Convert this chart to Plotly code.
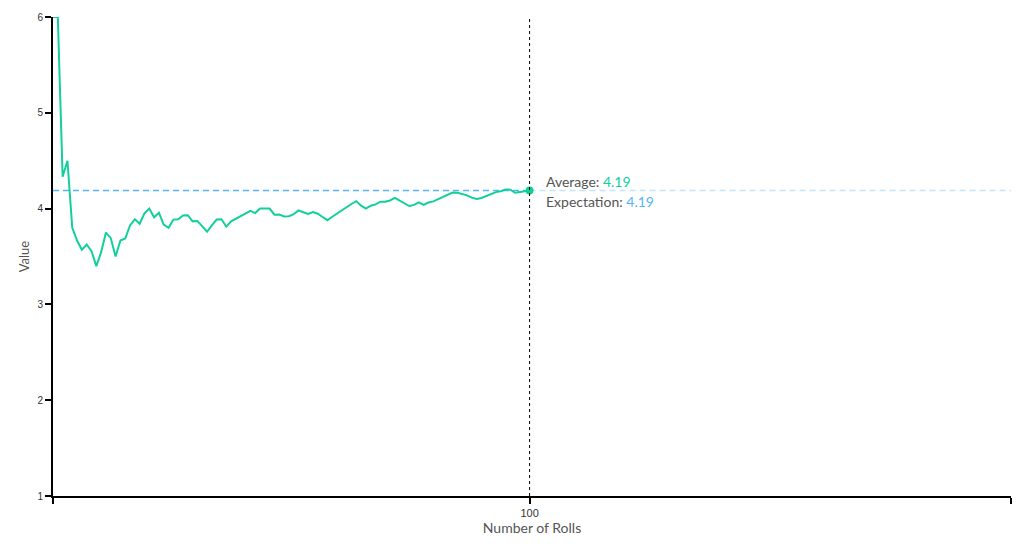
import plotly.graph_objects as go

rolls = list(range(1, 101))
running_average = [
    6.0, 6.0, 4.333, 4.5, 3.8, 3.667, 3.571, 3.625, 3.556, 3.4,
    3.545, 3.75, 3.692, 3.5, 3.667, 3.688, 3.824, 3.889, 3.842, 3.95,
    4.0, 3.909, 3.957, 3.833, 3.8, 3.885, 3.889, 3.929, 3.931, 3.867,
    3.871, 3.813, 3.758, 3.824, 3.886, 3.889, 3.811, 3.868, 3.897, 3.925,
    3.951, 3.976, 3.953, 4.0, 4.0, 4.0, 3.936, 3.938, 3.918, 3.92,
    3.941, 3.981, 3.962, 3.944, 3.964, 3.946, 3.912, 3.879, 3.915, 3.95,
    3.984, 4.016, 4.048, 4.078, 4.031, 4.0, 4.03, 4.044, 4.072, 4.071,
    4.085, 4.111, 4.082, 4.054, 4.027, 4.039, 4.065, 4.038, 4.063, 4.075,
    4.099, 4.122, 4.145, 4.167, 4.165, 4.151, 4.138, 4.114, 4.101, 4.111,
    4.132, 4.152, 4.172, 4.181, 4.2, 4.198, 4.165, 4.173, 4.182, 4.19,
]
expectation = 4.19
x_min, x_max = 1, 200
y_ticks = [1, 2, 3, 4, 5, 6]
x_tickvals = [1, 100, 200]
x_ticktext = ["", "100", ""]

TEAL = "#12cf9c"
BLUE = "#55b5f7"
GRAY = "#555555"

current = rolls[-1]
current_avg = running_average[-1]

fig = go.Figure()
fig.add_trace(go.Scatter(x=[x_min, current], y=[expectation, expectation], mode="lines",
                         line=dict(color=BLUE, width=1.5, dash="6px,4px"), hoverinfo="skip"))
fig.add_trace(go.Scatter(x=[current, x_max], y=[expectation, expectation], mode="lines",
                         line=dict(color="rgba(85,181,247,0.35)", width=1.5, dash="6px,4px"), hoverinfo="skip"))
fig.add_trace(go.Scatter(x=rolls, y=running_average, mode="lines",
                         line=dict(color=TEAL, width=2), hoverinfo="skip"))
fig.add_trace(go.Scatter(x=[current], y=[current_avg], mode="markers",
                         marker=dict(color=TEAL, size=8), hoverinfo="skip"))

fig.add_shape(type="line", x0=current, x1=current, y0=0, y1=1, xref="x", yref="paper",
              line=dict(color="black", width=1, dash="dot"))

fig.add_annotation(x=current, y=current_avg, xref="x", yref="y", xanchor="left", yanchor="middle",
                   xshift=14, yshift=9, showarrow=False, align="left",
                   text=f"Average: <span style='color:{TEAL}'>{current_avg:.2f}</span>",
                   font=dict(family="Lato, 'Open Sans', sans-serif", size=14, color=GRAY))
fig.add_annotation(x=current, y=expectation, xref="x", yref="y", xanchor="left", yanchor="middle",
                   xshift=14, yshift=-11, showarrow=False, align="left",
                   text=f"Expectation: <span style='color:{BLUE}'>{expectation:.2f}</span>",
                   font=dict(family="Lato, 'Open Sans', sans-serif", size=14, color=GRAY))

fig.update_layout(
    width=1013, height=531,
    margin=dict(l=45, r=10, t=9, b=43),
    plot_bgcolor="white", paper_bgcolor="white",
    showlegend=False,
    xaxis=dict(range=[x_min, x_max], tickvals=x_tickvals, ticktext=x_ticktext, automargin=False,
               showgrid=False, zeroline=False, showline=True, linecolor="black", linewidth=2,
               ticks="outside", ticklen=6, tickwidth=2, tickcolor="black",
               tickfont=dict(family="Liberation Sans, Arial, sans-serif", size=11, color="#333"),
               title=dict(text="Number of Rolls", standoff=3,
                          font=dict(family="Lato, 'Open Sans', sans-serif", size=14, color=GRAY))),
    yaxis=dict(range=[1, 6], tickvals=y_ticks, automargin=False,
               showgrid=False, zeroline=False, showline=True, linecolor="black", linewidth=2,
               ticks="outside", ticklen=6, tickwidth=2, tickcolor="black",
               tickfont=dict(family="Liberation Sans, Arial, sans-serif", size=10, color="#333"),
               title=dict(text="Value", standoff=5,
                          font=dict(family="Lato, 'Open Sans', sans-serif", size=13, color=GRAY))),
)

fig.write_html("out.html")
